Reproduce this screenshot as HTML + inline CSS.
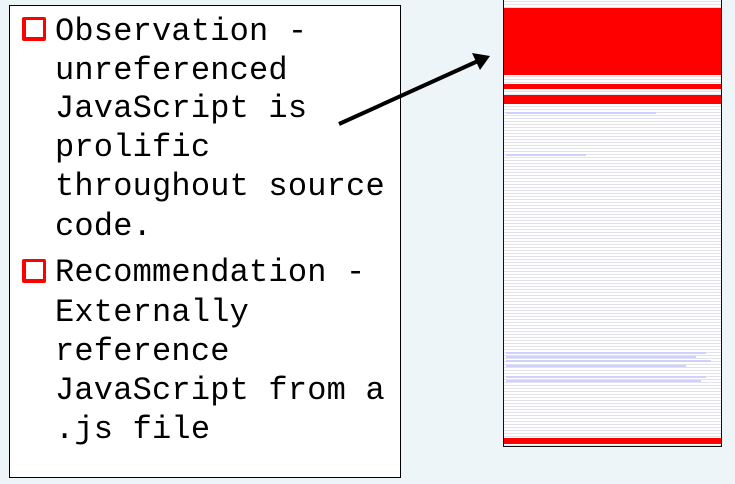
<!DOCTYPE html>
<html><head><style>
body{margin:0;width:735px;height:484px;background:#edf5f8;position:relative;overflow:hidden;font-family:"Liberation Mono",monospace;}
#box{position:absolute;left:9px;top:5px;width:390px;height:471px;background:#fff;border:1px solid #000;}
.l{position:absolute;left:55px;font-size:32px;line-height:39px;color:#000;white-space:pre;letter-spacing:0.2px}
.b{position:absolute;left:22px;width:17px;height:17px;border:3px solid #f00;border-left-width:4px;border-bottom-width:4px;background:#fff;border-radius:2px}
#panel{position:absolute;left:503px;top:0;width:217px;height:446px;background:#fff;border:1px solid #111;border-top:none;
background-image:repeating-linear-gradient(to bottom,#fff 0,#fff 1px,#e2e2ea 1px,#e2e2ea 2px,#fff 2px,#fff 3px);}
.r{position:absolute;left:504px;width:217px;background:#f00}
.bl{position:absolute;left:506px;background:#cfd0ff;height:2px}
</style></head><body>
<div id="box"></div>
<div class="b" style="top:17px"></div>
<div class="l" style="top:12px">Observation -</div>
<div class="l" style="top:51px">unreferenced</div>
<div class="l" style="top:89px">JavaScript is</div>
<div class="l" style="top:128px">prolific</div>
<div class="l" style="top:167px">throughout source</div>
<div class="l" style="top:207px">code.</div>
<div class="b" style="top:259px"></div>
<div class="l" style="top:253px">Recommendation -</div>
<div class="l" style="top:293px">Externally</div>
<div class="l" style="top:332px">reference</div>
<div class="l" style="top:371px">JavaScript from a</div>
<div class="l" style="top:410px">.js file</div>
<div id="panel"></div>
<div class="r" style="top:8px;height:67px"></div>
<div class="r" style="top:84px;height:5px"></div>
<div class="r" style="top:95px;height:9px"></div>
<div class="r" style="top:438px;height:6px"></div>
<div class="bl" style="top:112px;width:150px"></div>
<div class="bl" style="top:154px;width:80px"></div>
<div class="bl" style="top:352px;width:200px"></div>
<div class="bl" style="top:356px;width:190px"></div>
<div class="bl" style="top:360px;width:205px"></div>
<div class="bl" style="top:365px;width:180px"></div>
<div class="bl" style="top:376px;width:200px"></div>
<div class="bl" style="top:380px;width:195px"></div>
<svg style="position:absolute;left:0;top:0" width="735" height="484">
<line x1="339" y1="124" x2="478" y2="61" stroke="#000" stroke-width="4"/>
<polygon points="490,56 472,53 480,70" fill="#000"/>
</svg>
</body></html>
